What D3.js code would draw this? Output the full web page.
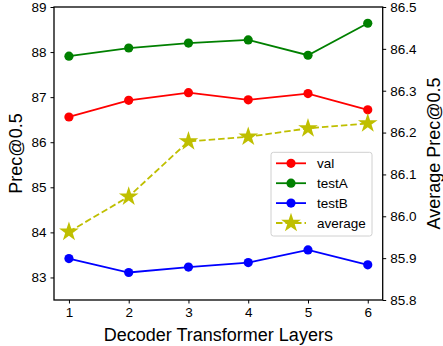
<!DOCTYPE html>
<html>
<head>
<meta charset="utf-8">
<script src="https://cdn.jsdelivr.net/npm/d3@7"></script>
<style>
    body { margin: 0; background: #fff; }
    text { font-family: "Liberation Sans", Arial, sans-serif; fill: #000; }
</style>
</head>
<body>
<svg id="chart" width="443" height="346"></svg>
<script>
// Data
const layers = [1, 2, 3, 4, 5, 6];
const valScores = [86.56, 86.93, 87.10, 86.94, 87.08, 86.72];
const testAScores = [87.91, 88.09, 88.20, 88.27, 87.93, 88.64];
const testBScores = [83.42, 83.11, 83.23, 83.33, 83.61, 83.28];
const averageScores = [85.963, 86.047, 86.179, 86.190, 86.210, 86.222];
const leftTicks = [83, 84, 85, 86, 87, 88, 89];
const rightTicks = [85.8, 85.9, 86.0, 86.1, 86.2, 86.3, 86.4, 86.5];

const margin = { top: 7, right: 60, bottom: 46, left: 54 };
const width = 382.7 - margin.left;
const height = 300 - margin.top;

const svg = d3.select('#chart')
    .append('g')
    .attr('transform', `translate(${margin.left}, ${margin.top})`);

const x = d3.scaleLinear().domain([0.75, 6.25]).range([0, width]);
const yLeft = d3.scaleLinear().domain([82.5, 89]).range([height, 0]);
const yRight = d3.scaleLinear().domain([85.8, 86.5]).range([height, 0]);

const series = [
    { name: 'val', values: valScores, color: '#ff0000', y: yLeft, marker: 'circle' },
    { name: 'testA', values: testAScores, color: '#008000', y: yLeft, marker: 'circle' },
    { name: 'testB', values: testBScores, color: '#0000ff', y: yLeft, marker: 'circle' },
    { name: 'average', values: averageScores, color: '#bfbf00', y: yRight, marker: 'star', dashed: true }
];

const star = d3.symbol().type(d3.symbolStar).size(120);

function drawMarker(g, s, cx, cy) {
    if (s.marker === 'circle') {
        g.append('circle')
            .attr('cx', cx).attr('cy', cy).attr('r', 4.6)
            .attr('fill', s.color);
    } else {
        g.append('path')
            .attr('d', star)
            .attr('transform', `translate(${cx}, ${cy})`)
            .attr('fill', s.color);
    }
}

// Lines and markers
series.forEach(s => {
    const line = d3.line()
        .x((d, i) => x(layers[i]))
        .y(d => s.y(d));

    svg.append('path')
        .datum(s.values)
        .attr('d', line)
        .attr('fill', 'none')
        .attr('stroke', s.color)
        .attr('stroke-width', 1.8)
        .attr('stroke-dasharray', s.dashed ? '6.5,3' : null);

    const g = svg.append('g');
    s.values.forEach((v, i) => drawMarker(g, s, x(layers[i]), s.y(v)));
});

// Axes
const tickFont = '13.5px';

const xAxis = svg.append('g')
    .attr('transform', `translate(0, ${height})`)
    .call(d3.axisBottom(x).tickValues(layers).tickFormat(d3.format('d')).tickSize(3.5).tickPadding(4));

const leftAxis = svg.append('g')
    .call(d3.axisLeft(yLeft).tickValues(leftTicks).tickFormat(d3.format('d')).tickSize(3.5).tickPadding(4));

const rightAxis = svg.append('g')
    .attr('transform', `translate(${width}, 0)`)
    .call(d3.axisRight(yRight).tickValues(rightTicks).tickFormat(d3.format('.1f')).tickSize(3.5).tickPadding(4));

[xAxis, leftAxis, rightAxis].forEach(a => {
    a.select('.domain').remove();
    a.selectAll('line').attr('stroke', '#000').attr('stroke-width', 1);
    a.selectAll('text').style('font-size', tickFont).attr('fill', '#000');
});

// Frame
svg.append('rect')
    .attr('width', width)
    .attr('height', height)
    .attr('fill', 'none')
    .attr('stroke', '#000')
    .attr('stroke-width', 1.3);

// Axis labels
svg.append('text')
    .attr('x', width / 2)
    .attr('y', height + 41)
    .attr('text-anchor', 'middle')
    .style('font-size', '18px')
    .text('Decoder Transformer Layers');

svg.append('text')
    .attr('transform', `translate(${-32}, ${height / 2}) rotate(-90)`)
    .attr('text-anchor', 'middle')
    .style('font-size', '18px')
    .text('Prec@0.5');

svg.append('text')
    .attr('transform', `translate(${width + 57}, ${height / 2}) rotate(-90)`)
    .attr('text-anchor', 'middle')
    .style('font-size', '18px')
    .text('Average Prec@0.5');

// Legend
const legend = svg.append('g')
    .attr('transform', `translate(${271 - margin.left}, ${152.3 - margin.top})`);

legend.append('rect')
    .attr('width', 101)
    .attr('height', 83.7)
    .attr('rx', 2.5)
    .attr('fill', '#fff')
    .attr('fill-opacity', 0.8)
    .attr('stroke', '#d0d0d0')
    .attr('stroke-width', 1);

series.forEach((s, i) => {
    const row = legend.append('g')
        .attr('transform', `translate(0, ${11 + i * 19.9})`);
    row.append('line')
        .attr('x1', 5).attr('x2', 35)
        .attr('stroke', s.color)
        .attr('stroke-width', 1.8)
        .attr('stroke-dasharray', s.dashed ? '6.5,3' : null);
    drawMarker(row, s, 20, 0);
    row.append('text')
        .attr('x', 46)
        .attr('dy', '0.35em')
        .style('font-size', '13.5px')
        .text(s.name);
});
</script>
</body>
</html>
